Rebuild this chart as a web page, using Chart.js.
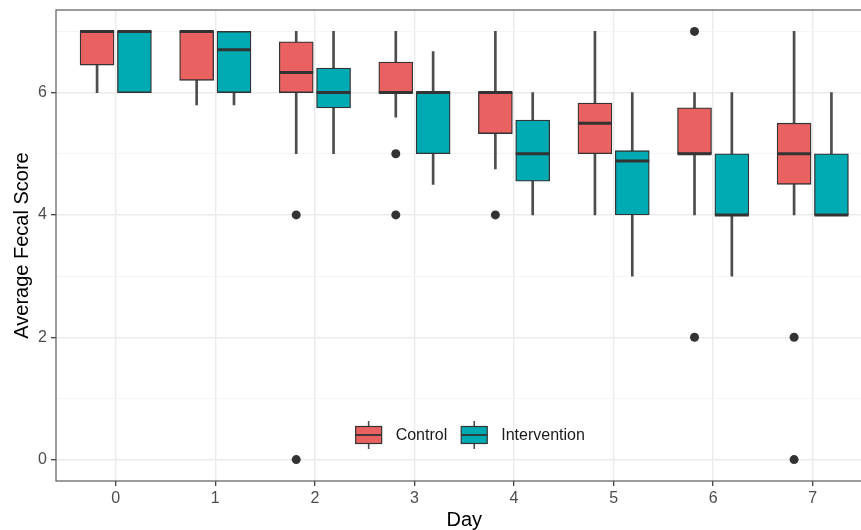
<!DOCTYPE html>
<html>
<head>
<meta charset="utf-8">
<script src="https://cdn.jsdelivr.net/npm/chart.js@4.4.1/dist/chart.umd.min.js"></script>
<style>
  html, body { margin: 0; padding: 0; background: #fff; overflow: hidden; width: 861px; height: 530px; }
  #wrap { position: absolute; left: 0; top: 0; width: 880px; height: 530px; }
  #box-chart { width: 880px; height: 530px; }
</style>
</head>
<body>
<div id="wrap"><canvas id="box-chart" width="880" height="530"></canvas></div>
<script>
var days = [0, 1, 2, 3, 4, 5, 6, 7];
var groups = ["Control", "Intervention"];
var colors = ["#E96161", "#00AAB2"];
var yTicks = [0, 2, 4, 6];

// box stats
var controlLow = [6, 5.8, 5, 5.6, 4.75, 4, 4, 4];
var controlQ1 = [6.45, 6.2, 6, 6, 5.33, 5, 5, 4.5];
var controlMed = [7, 7, 6.33, 6, 6, 5.5, 5, 5];
var controlQ3 = [7, 7, 6.83, 6.5, 6, 5.83, 5.75, 5.5];
var controlHigh = [7, 7, 7, 7, 7, 7, 6, 7];
var controlOut = [[], [], [4, 0], [5, 4], [4], [], [7, 2], [2, 0]];

var interLow = [6, 5.8, 5, 4.5, 4, 3, 3, 4];
var interQ1 = [6, 6, 5.75, 5, 4.55, 4, 4, 4];
var interMed = [7, 6.7, 6, 6, 5, 4.88, 4, 4];
var interQ3 = [7, 7, 6.4, 6, 5.55, 5.05, 5, 5];
var interHigh = [7, 7, 7, 6.67, 6, 6, 6, 6];
var interOut = [[], [], [], [], [], [], [], []];

var dodge = 0.1875;
var font = "'Liberation Sans', Arial, sans-serif";

function boxPoints(offset, q1, q3) {
  var pts = [];
  for (var i = 0; i < days.length; i++) {
    pts.push({ x: days[i] + offset, y: [q1[i], q3[i]] });
  }
  return pts;
}

function whiskerPoints(offset, low, q1, q3, high) {
  var pts = [];
  for (var i = 0; i < days.length; i++) {
    if (q1[i] > low[i]) pts.push({ x: days[i] + offset, y: [low[i], q1[i]] });
    if (high[i] > q3[i]) pts.push({ x: days[i] + offset, y: [q3[i], high[i]] });
  }
  return pts;
}

function medianPoints(offset, med) {
  var pts = [];
  for (var i = 0; i < days.length; i++) {
    pts.push({ x: days[i] + offset, y: med[i] });
  }
  return pts;
}

function outlierPoints(offset, out) {
  var pts = [];
  for (var i = 0; i < days.length; i++) {
    for (var j = 0; j < out[i].length; j++) {
      pts.push({ x: days[i] + offset, y: out[i][j] });
    }
  }
  return pts;
}

function medianSet(offset, med) {
  return {
    type: "scatter",
    data: medianPoints(offset, med),
    pointStyle: "line",
    pointRadius: 17,
    pointBorderWidth: 3,
    pointBorderColor: "#333333",
    pointBackgroundColor: "#333333"
  };
}

function outlierSet(offset, out) {
  return {
    type: "scatter",
    data: outlierPoints(offset, out),
    pointRadius: 4.5,
    pointBorderWidth: 0,
    pointBackgroundColor: "#333333"
  };
}

function boxSet(offset, q1, q3, color) {
  return {
    type: "bar",
    data: boxPoints(offset, q1, q3),
    backgroundColor: color,
    borderColor: "#333333",
    borderWidth: 1.3,
    borderSkipped: false,
    barThickness: 34,
    grouped: false
  };
}

function whiskerSet(offset, low, q1, q3, high) {
  return {
    type: "bar",
    data: whiskerPoints(offset, low, q1, q3, high),
    backgroundColor: "#4D4D4D",
    borderWidth: 0,
    barThickness: 2,
    grouped: false
  };
}

// panel border drawn on top, like ggplot
var panelBorder = {
  id: "panelBorder",
  afterDatasetsDraw: function (chart) {
    var a = chart.chartArea;
    var ctx = chart.ctx;
    ctx.save();
    ctx.strokeStyle = "#5A5A5A";
    ctx.lineWidth = 1.2;
    ctx.strokeRect(a.left, a.top, a.right - a.left, a.bottom - a.top);
    ctx.restore();
  }
};

// legend inside the panel with boxplot keys
var boxLegend = {
  id: "boxLegend",
  afterDraw: function (chart) {
    var a = chart.chartArea;
    var ctx = chart.ctx;
    ctx.save();
    ctx.font = "16px " + font;
    var keyW = 26, keyH = 17, gap = 14, between = 14;
    var total = 0;
    for (var i = 0; i < groups.length; i++) {
      total += keyW + gap + ctx.measureText(groups[i]).width;
      if (i < groups.length - 1) total += between;
    }
    var x = (a.left + a.right) / 2 - total / 2 + 6;
    var cy = a.bottom - 46;
    for (var i = 0; i < groups.length; i++) {
      var cx = x + keyW / 2;
      ctx.strokeStyle = "#4D4D4D";
      ctx.lineWidth = 1.6;
      ctx.beginPath();
      ctx.moveTo(cx, cy - 14);
      ctx.lineTo(cx, cy + 14);
      ctx.stroke();
      ctx.fillStyle = colors[i];
      ctx.fillRect(x, cy - keyH / 2, keyW, keyH);
      ctx.strokeStyle = "#333333";
      ctx.lineWidth = 1.2;
      ctx.strokeRect(x, cy - keyH / 2, keyW, keyH);
      ctx.lineWidth = 1.8;
      ctx.beginPath();
      ctx.moveTo(x, cy);
      ctx.lineTo(x + keyW, cy);
      ctx.stroke();
      ctx.fillStyle = "#1A1A1A";
      ctx.textAlign = "left";
      ctx.textBaseline = "middle";
      ctx.fillText(groups[i], x + keyW + gap, cy + 1);
      x += keyW + gap + ctx.measureText(groups[i]).width + between;
    }
    ctx.restore();
  }
};

new Chart(document.getElementById("box-chart"), {
  type: "bar",
  data: {
    datasets: [
      medianSet(-dodge, controlMed),
      medianSet(dodge, interMed),
      outlierSet(-dodge, controlOut),
      outlierSet(dodge, interOut),
      boxSet(-dodge, controlQ1, controlQ3, colors[0]),
      boxSet(dodge, interQ1, interQ3, colors[1]),
      whiskerSet(-dodge, controlLow, controlQ1, controlQ3, controlHigh),
      whiskerSet(dodge, interLow, interQ1, interQ3, interHigh)
    ]
  },
  options: {
    responsive: false,
    maintainAspectRatio: false,
    animation: false,
    events: [],
    layout: { autoPadding: false, padding: { top: 10, right: 7.5, left: 0, bottom: 0 } },
    plugins: {
      legend: { display: false },
      tooltip: { enabled: false }
    },
    scales: {
      x: {
        type: "linear",
        min: -0.6,
        max: 7.6,
        offset: false,
        afterFit: function (scale) {
          scale.height = 49;
          scale.paddingLeft = 0;
          scale.paddingRight = 0;
        },
        border: { display: false },
        grid: {
          offset: false,
          color: "#EBEBEB",
          lineWidth: 1.4,
          tickColor: "#333333",
          tickLength: 5,
          tickWidth: 1.2
        },
        ticks: {
          stepSize: 1,
          includeBounds: false,
          padding: 3,
          color: "#4D4D4D",
          font: { family: font, size: 16 },
          callback: function (value) { return days.indexOf(value) >= 0 ? String(value) : ""; }
        },
        title: {
          display: true,
          text: "Day",
          color: "#000000",
          font: { family: font, size: 20, lineHeight: 1 },
          padding: { top: 0, bottom: 0 }
        }
      },
      y: {
        type: "linear",
        min: -0.35,
        max: 7.35,
        afterFit: function (scale) {
          scale.width = 56;
          scale.paddingTop = 0;
          scale.paddingBottom = 0;
        },
        border: { display: false },
        grid: {
          color: function (ctx) { return yTicks.indexOf(ctx.tick.value) >= 0 ? "#EBEBEB" : "#F2F2F2"; },
          lineWidth: function (ctx) { return yTicks.indexOf(ctx.tick.value) >= 0 ? 1.4 : 0.8; },
          tickColor: function (ctx) { return yTicks.indexOf(ctx.tick.value) >= 0 ? "#333333" : "rgba(0,0,0,0)"; },
          tickLength: 5,
          tickWidth: 1.2
        },
        ticks: {
          stepSize: 1,
          includeBounds: false,
          padding: 4,
          color: "#4D4D4D",
          font: { family: font, size: 16 },
          callback: function (value) { return yTicks.indexOf(value) >= 0 ? String(value) : ""; }
        },
        title: {
          display: true,
          text: "Average Fecal Score",
          color: "#000000",
          font: { family: font, size: 20, lineHeight: 1 },
          padding: { top: 12, bottom: 0 }
        }
      }
    }
  },
  plugins: [panelBorder, boxLegend]
});
</script>
</body>
</html>
